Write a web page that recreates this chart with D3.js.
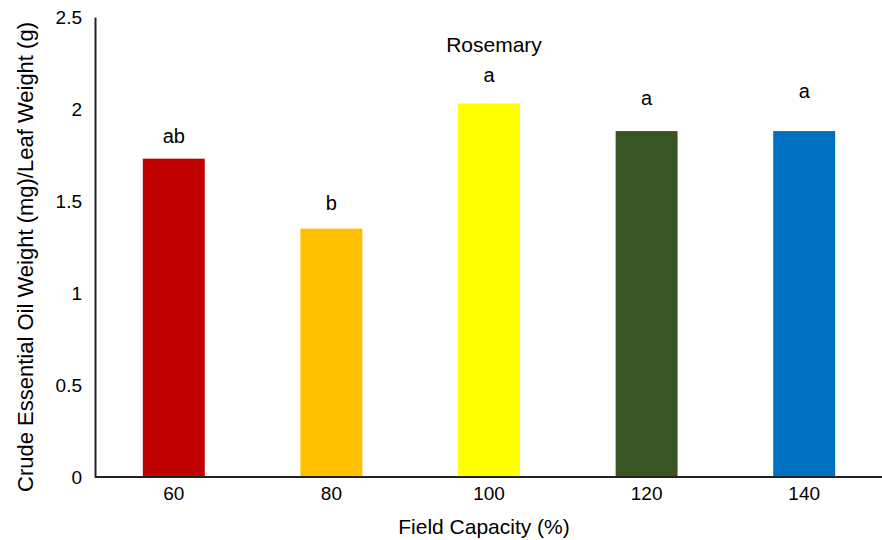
<!DOCTYPE html>
<html>
<head>
<meta charset="utf-8">
<script src="https://cdn.jsdelivr.net/npm/d3@7/dist/d3.min.js"></script>
<style>
  html, body { margin: 0; padding: 0; background: #fff; }
  text { font-family: "Liberation Sans", Arial, sans-serif; fill: #000; }
</style>
</head>
<body>
<svg id="chart" width="882" height="540"></svg>
<script>
const categories = ["60", "80", "100", "120", "140"];
const values = [1.73, 1.35, 2.03, 1.88, 1.88];
const letters = ["ab", "b", "a", "a", "a"];
const letterLevels = [1.815, 1.45, 2.145, 2.02, 2.06];
const colors = ["#C00000", "#FFC000", "#FFFF00", "#3A5524", "#0070C0"];
const yTicks = [0, 0.5, 1, 1.5, 2, 2.5];
const title = "Rosemary";
const xTitle = "Field Capacity (%)";
const yTitle = "Crude Essential Oil Weight (mg)/Leaf Weight (g)";

const svg = d3.select("#chart");
const plotLeft = 95, plotRight = 883, plotTop = 17, plotBottom = 477;

const x = d3.scaleBand().domain(categories).range([plotLeft, plotRight])
  .paddingInner(0.607).paddingOuter(0.3035);
const y = d3.scaleLinear().domain([0, 2.5]).range([plotBottom, plotTop]);

// bars
svg.append("g").selectAll("rect").data(categories).join("rect")
  .attr("x", d => x(d))
  .attr("width", x.bandwidth())
  .attr("y", (d, i) => y(values[i]))
  .attr("height", (d, i) => y(0) - y(values[i]))
  .attr("fill", (d, i) => colors[i]);

// y axis
const yAxis = svg.append("g").attr("transform", `translate(${plotLeft},0)`)
  .call(d3.axisLeft(y).tickValues(yTicks).tickSize(0).tickPadding(13).tickFormat(d3.format("")));
yAxis.select(".domain").attr("stroke", "#222").attr("stroke-width", 2);
yAxis.selectAll("text").style("font-size", "19px").attr("font-family", "Liberation Sans, Arial, sans-serif");

// x axis
const xAxis = svg.append("g").attr("transform", `translate(0,${plotBottom})`)
  .call(d3.axisBottom(x).tickSize(0).tickPadding(10));
xAxis.select(".domain").attr("stroke", "#222").attr("stroke-width", 2)
  .attr("d", `M${plotLeft},0H882`);
xAxis.selectAll("text").style("font-size", "19px").attr("font-family", "Liberation Sans, Arial, sans-serif");

// significance letters
svg.append("g").selectAll("text").data(categories).join("text")
  .attr("x", d => x(d) + x.bandwidth() / 2)
  .attr("y", (d, i) => y(letterLevels[i]))
  .attr("text-anchor", "middle")
  .style("font-size", "20px")
  .text((d, i) => letters[i]);

// title
svg.append("text").attr("x", 494).attr("y", 52)
  .attr("text-anchor", "middle").style("font-size", "21px").text(title);

// x title
svg.append("text").attr("x", 484).attr("y", 534)
  .attr("text-anchor", "middle").style("font-size", "21px").text(xTitle);

// y title
svg.append("text").attr("transform", "translate(33,257) rotate(-90)")
  .attr("text-anchor", "middle").style("font-size", "22px").text(yTitle);
</script>
</body>
</html>
